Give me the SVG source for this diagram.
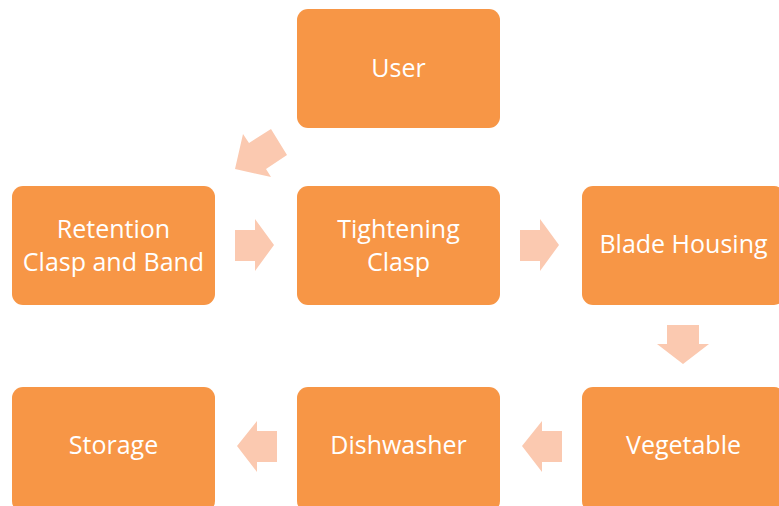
<svg xmlns="http://www.w3.org/2000/svg" width="779" height="506" viewBox="0 0 779 506">
<style>
.box{fill:#F79646;}
.arr{fill:#FBC9B0;}
.t{font-family:"Open Sans","Liberation Sans",sans-serif;font-size:25px;fill:#FFFFFF;text-anchor:middle;}
</style>
<rect width="779" height="506" fill="#FFFFFF"/>
<g id="connectors">
<polygon class="arr" points="271,129 287,155 266,169 271,177 235,169 243,134 249,143"/>
<polygon class="arr" points="235,230 255,230 255,219 274,245 255,271 255,261 235,261"/>
<polygon class="arr" points="520,230 540,230 540,219 559,245 540,271 540,261 520,261"/>
<polygon class="arr" points="667,325 699,325 699,344 709,344 683,364 657,344 667,344"/>
<polygon class="arr" points="562,431 542,431 542,421 522,446 542,472 542,462 562,462"/>
<polygon class="arr" points="277,431 257,431 257,421 237,446 257,472 257,462 277,462"/>
</g>
<g id="user">
<rect class="box" x="297" y="9" width="203" height="119" rx="11"/>
<text class="t" x="398.5" y="77">User</text>
</g>
<g id="retention">
<rect class="box" x="12" y="186" width="203" height="119" rx="11"/>
<text class="t" x="113.5" y="238">Retention</text>
<text class="t" x="113.5" y="271">Clasp and Band</text>
</g>
<g id="tightening">
<rect class="box" x="297" y="186" width="203" height="119" rx="11"/>
<text class="t" x="398.5" y="238">Tightening</text>
<text class="t" x="398.5" y="271">Clasp</text>
</g>
<g id="blade">
<rect class="box" x="582" y="186" width="203" height="119" rx="11"/>
<text class="t" x="683.5" y="253">Blade Housing</text>
</g>
<g id="vegetable">
<rect class="box" x="582" y="387" width="203" height="125" rx="11"/>
<text class="t" x="683.5" y="454">Vegetable</text>
</g>
<g id="dishwasher">
<rect class="box" x="297" y="387" width="203" height="125" rx="11"/>
<text class="t" x="398.5" y="454">Dishwasher</text>
</g>
<g id="storage">
<rect class="box" x="12" y="387" width="203" height="125" rx="11"/>
<text class="t" x="113.5" y="454">Storage</text>
</g>
</svg>
